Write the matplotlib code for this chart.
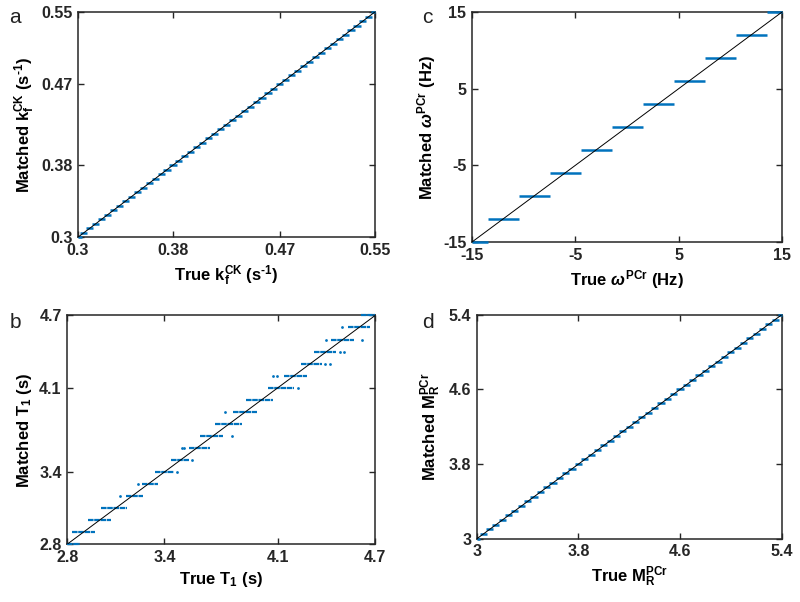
import matplotlib
matplotlib.use("Agg")
import matplotlib.pyplot as plt

# ── Data ─────────────────────────────────────────────────────────────────────
# a: k_f^CK dictionary levels (s^-1)
KF_LEVELS = [0.300, 0.305, 0.310, 0.315, 0.320, 0.325, 0.330, 0.335, 0.340, 0.345,
             0.350, 0.355, 0.360, 0.365, 0.370, 0.375, 0.380, 0.385, 0.390, 0.395,
             0.400, 0.405, 0.410, 0.415, 0.420, 0.425, 0.430, 0.435, 0.440, 0.445,
             0.450, 0.455, 0.460, 0.465, 0.470, 0.475, 0.480, 0.485, 0.490, 0.495,
             0.500, 0.505, 0.510, 0.515, 0.520, 0.525, 0.530, 0.535, 0.540, 0.545,
             0.550]
KF_HALF = 0.003
KF_TICKS = [0.3, 0.38, 0.47, 0.55]

# b: T1 levels with the spread of true values per level (s)
T1_LEVELS = [2.8, 2.9, 3.0, 3.1, 3.2, 3.3, 3.4, 3.5, 3.6, 3.7,
             3.8, 3.9, 4.0, 4.1, 4.2, 4.3, 4.4, 4.5, 4.6, 4.7]
T1_START = [2.80, 2.83, 2.93, 3.01, 3.16, 3.26, 3.34, 3.44, 3.55, 3.62,
            3.71, 3.82, 3.90, 4.04, 4.14, 4.24, 4.32, 4.43, 4.53, 4.61]
T1_END = [2.88, 2.97, 3.07, 3.17, 3.27, 3.36, 3.46, 3.55, 3.68, 3.76,
          3.88, 3.97, 4.07, 4.20, 4.28, 4.37, 4.46, 4.57, 4.67, 4.70]
T1_OUT_X = [3.125, 3.238, 3.475, 3.572, 3.506, 3.522, 3.815, 3.774, 4.222,
            4.068, 4.093, 4.391, 4.422, 4.48, 4.509, 4.395, 4.618, 4.494]
T1_OUT_Y = [3.2, 3.3, 3.4, 3.5, 3.6, 3.6, 3.7, 3.9, 4.1,
            4.2, 4.2, 4.3, 4.3, 4.4, 4.4, 4.5, 4.5, 4.6]
T1_TICKS = [2.8, 3.4, 4.1, 4.7]

# c: omega^PCr levels (Hz)
OM_LEVELS = [-15, -12, -9, -6, -3, 0, 3, 6, 9, 12, 15]
OM_HALF = 1.5
OM_TICKS = [-15, -5, 5, 15]

# d: M_R^PCr levels
MR_LEVELS = [3.00, 3.05, 3.10, 3.15, 3.20, 3.25, 3.30, 3.35, 3.40, 3.45,
             3.50, 3.55, 3.60, 3.65, 3.70, 3.75, 3.80, 3.85, 3.90, 3.95,
             4.00, 4.05, 4.10, 4.15, 4.20, 4.25, 4.30, 4.35, 4.40, 4.45,
             4.50, 4.55, 4.60, 4.65, 4.70, 4.75, 4.80, 4.85, 4.90, 4.95,
             5.00, 5.05, 5.10, 5.15, 5.20, 5.25, 5.30, 5.35, 5.40]
MR_HALF = 0.028
MR_TICKS = [3, 3.8, 4.6, 5.4]

BLUE = "#0072BD"

# ── Style ────────────────────────────────────────────────────────────────────
plt.rcParams["font.family"] = ["Liberation Sans", "DejaVu Sans"]
plt.rcParams["font.weight"] = "bold"
plt.rcParams["axes.unicode_minus"] = False
plt.rcParams["mathtext.fontset"] = "custom"
plt.rcParams["mathtext.rm"] = "Liberation Sans:bold"
plt.rcParams["mathtext.bf"] = "Liberation Sans:bold"
plt.rcParams["mathtext.sf"] = "Liberation Sans:bold"
plt.rcParams["mathtext.it"] = "Liberation Sans:italic"

fig = plt.figure(figsize=(8.0, 6.02), dpi=100)

# axes rectangles in figure fractions (a, b, c, d)
ax_a = fig.add_axes([0.0975, 0.606, 0.371, 0.374])
ax_b = fig.add_axes([0.084, 0.096, 0.385, 0.380])
ax_c = fig.add_axes([0.590, 0.598, 0.3875, 0.382])
ax_d = fig.add_axes([0.596, 0.105, 0.381, 0.372])


def style(ax, lim, ticks, labels):
    ax.set_xlim(lim)
    ax.set_ylim(lim)
    ax.set_xticks(ticks)
    ax.set_yticks(ticks)
    ax.set_xticklabels(labels, fontsize=11.5, fontweight="bold")
    ax.set_yticklabels(labels, fontsize=11.5, fontweight="bold")
    ax.tick_params(direction="in", top=True, right=True, length=4,
                   width=1.0, pad=4, colors="#262626")
    for sp in ax.spines.values():
        sp.set_linewidth(1.1)
        sp.set_color("#262626")
    # identity line drawn on top of the matched values
    ax.plot(lim, lim, color="black", linewidth=0.7, zorder=7)


def steps(ax, levels, half, lim, **kw):
    lo, hi = lim
    x0 = [max(v - half, lo) for v in levels]
    x1 = [min(v + half, hi) for v in levels]
    ax.hlines(levels, x0, x1, color=BLUE, clip_on=False, zorder=6, **kw)


def fmt(ticks):
    return [f"{t:g}" for t in ticks]


# a
steps(ax_a, KF_LEVELS, KF_HALF, (0.3, 0.55), linewidth=1.8)
style(ax_a, (0.3, 0.55), KF_TICKS, fmt(KF_TICKS))
ax_a.set_xlabel(r"True $\mathrm{k}_\mathrm{f}^\mathrm{CK}$ (s$^{\text{-1}}$)",
                fontsize=12, fontweight="bold", labelpad=4)
ax_a.set_ylabel(r"Matched $\mathrm{k}_\mathrm{f}^\mathrm{CK}$ (s$^{\text{-1}}$)",
                fontsize=12, fontweight="bold", labelpad=3)

# b
ax_b.hlines(T1_LEVELS, T1_START, T1_END, color=BLUE, linewidth=1.6,
            linestyles=(0, (2.5, 0.3)), clip_on=False, zorder=6)
ax_b.scatter(T1_OUT_X, T1_OUT_Y, s=4, color=BLUE, linewidths=0)
style(ax_b, (2.8, 4.7), T1_TICKS, fmt(T1_TICKS))
ax_b.set_xlabel(r"True T$_\mathrm{1}$ (s)", fontsize=12, fontweight="bold", labelpad=4)
ax_b.set_ylabel(r"Matched T$_\mathrm{1}$ (s)", fontsize=12, fontweight="bold", labelpad=4)

# c
steps(ax_c, OM_LEVELS, OM_HALF, (-15, 15), linewidth=1.8)
style(ax_c, (-15, 15), OM_TICKS, fmt(OM_TICKS))
ax_c.set_xlabel(r"True $\omega^\mathrm{PCr}$ (Hz)", fontsize=12, fontweight="bold", labelpad=4)
ax_c.set_ylabel(r"Matched $\omega^\mathrm{PCr}$ (Hz)", fontsize=12, fontweight="bold", labelpad=4)

# d
steps(ax_d, MR_LEVELS, MR_HALF, (3, 5.4), linewidth=1.8)
style(ax_d, (3, 5.4), MR_TICKS, fmt(MR_TICKS))
ax_d.set_xlabel(r"True $\mathrm{M}_\mathrm{R}^\mathrm{PCr}$", fontsize=12, fontweight="bold", labelpad=4)
ax_d.set_ylabel(r"Matched $\mathrm{M}_\mathrm{R}^\mathrm{PCr}$", fontsize=12, fontweight="bold", labelpad=4)

# panel letters
for letter, x, y in [("a", 0.012, 0.962), ("b", 0.012, 0.455),
                     ("c", 0.528, 0.962), ("d", 0.528, 0.455)]:
    fig.text(x, y, letter, fontsize=15, fontweight="normal", color="#222222")

fig.savefig("out.png", dpi=100)
